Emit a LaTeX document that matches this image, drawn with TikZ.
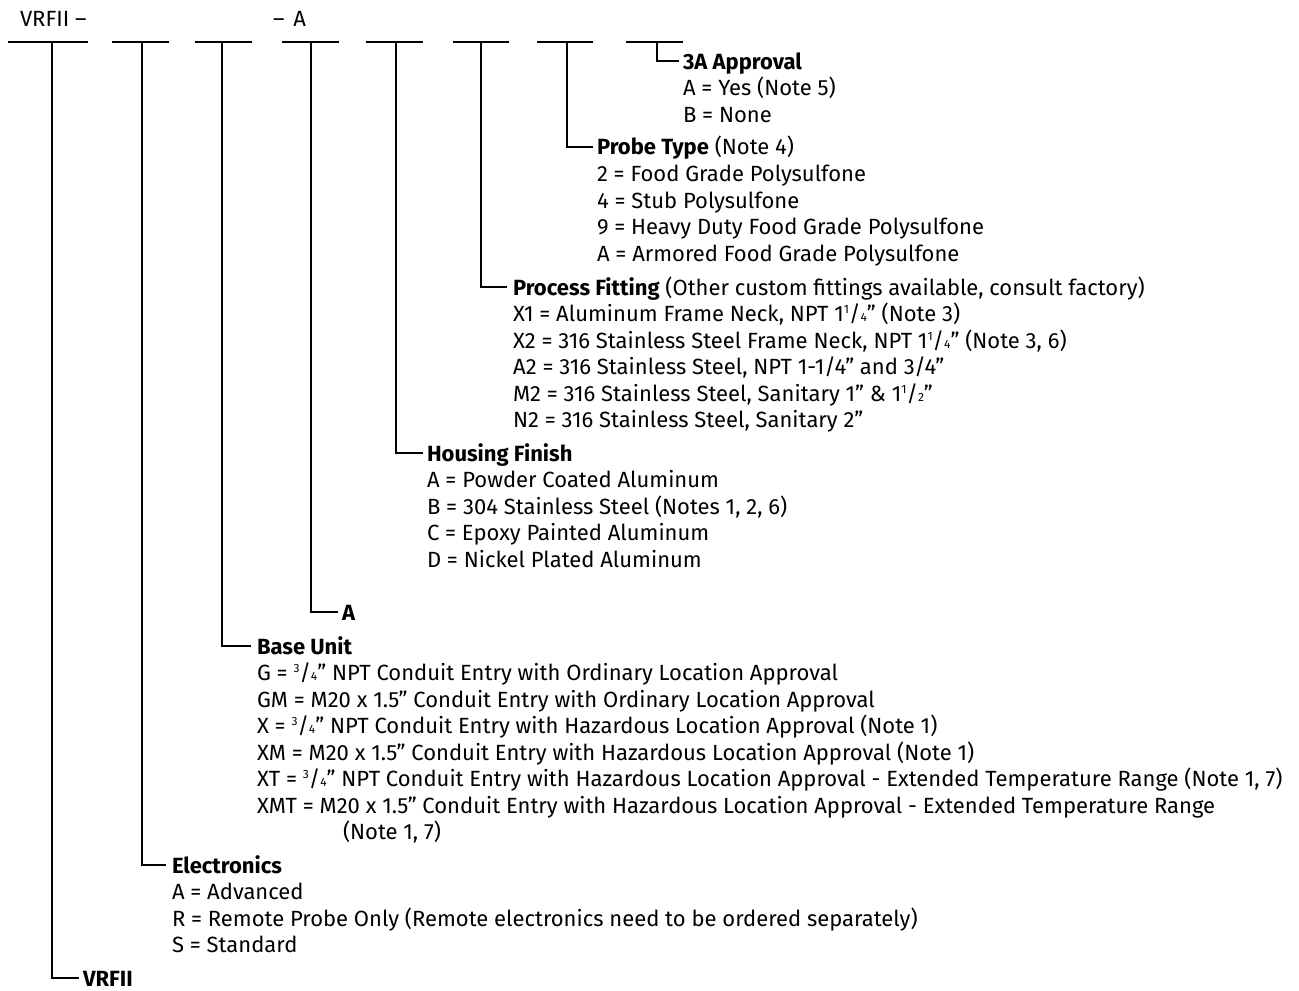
\documentclass[tikz,border=0pt]{standalone}
\usepackage{fontspec}
\setmainfont{Fira Sans}
\usetikzlibrary{positioning}

\newcommand{\frc}[2]{\raisebox{0.36em}{\fontsize{6}{7}\selectfont#1}/{\fontsize{6}{7}\selectfont#2}}

\tikzset{
	txt/.style={inner sep=0pt, outer sep=0pt, text height=9.5pt, text depth=1.5pt, font=\fontsize{11}{13}\selectfont},
	ttl/.style={txt, anchor=west},
	opt/.style={txt},
	lead/.style={line width=0.6pt},
}

\begin{document}
\begin{tikzpicture}[x=0.5pt, y=-0.5pt, node distance=2.25pt and 0pt]
	\useasboundingbox (0,0) rectangle (1299,990);

	\node[txt, anchor=west] (hdr) at (20,19) {VRFII –};
	\node[txt, anchor=west] (hdrA) at (273,19) {–\hspace{4.5pt}A};

	% blanks of the order code
	\draw[lead] (8,42) -- (88,42)  (112,42) -- (169,42)  (195,42) -- (252,42)  (282,42) -- (339,42)
		(366,42) -- (423,42)  (453,42) -- (509,42)  (537,42) -- (593,42)  (626,42) -- (683,42);

	\coordinate (s1) at (52,42);
	\coordinate (s2) at (142,42);
	\coordinate (s3) at (222,42);
	\coordinate (s4) at (311,42);
	\coordinate (s5) at (396,42);
	\coordinate (s6) at (481,42);
	\coordinate (s7) at (567,42);
	\coordinate (s8) at (657,42);

	\node[ttl] (appr) at (683,61) {\textbf{3A Approval}};
	\node[opt, below right=of appr.south west] (appr1) {A = Yes (Note 5)};
	\node[opt, below right=of appr1.south west] (appr2) {B = None};

	\node[ttl] (probe) at (597,147) {\textbf{Probe Type} (Note 4)};
	\node[opt, below right=of probe.south west] (probe1) {2 = Food Grade Polysulfone};
	\node[opt, below right=of probe1.south west] (probe2) {4 = Stub Polysulfone};
	\node[opt, below right=of probe2.south west] (probe3) {9 = Heavy Duty Food Grade Polysulfone};
	\node[opt, below right=of probe3.south west] (probe4) {A = Armored Food Grade Polysulfone};

	\node[ttl] (fit) at (513,287) {\textbf{Process Fitting} (Other custom fittings available, consult factory)};
	\node[opt, below right=of fit.south west] (fit1) {X1 = Aluminum Frame Neck, NPT 1\frc{1}{4}” (Note 3)};
	\node[opt, below right=of fit1.south west] (fit2) {X2 = 316 Stainless Steel Frame Neck, NPT 1\frc{1}{4}” (Note 3, 6)};
	\node[opt, below right=of fit2.south west] (fit3) {A2 = 316 Stainless Steel, NPT 1-1/4” and 3/4”};
	\node[opt, below right=of fit3.south west] (fit4) {M2 = 316 Stainless Steel, Sanitary 1” \& 1\frc{1}{2}”};
	\node[opt, below right=of fit4.south west] (fit5) {N2 = 316 Stainless Steel, Sanitary 2”};

	\node[ttl] (hous) at (427,453) {\textbf{Housing Finish}};
	\node[opt, below right=of hous.south west] (hous1) {A = Powder Coated Aluminum};
	\node[opt, below right=of hous1.south west] (hous2) {B = 304 Stainless Steel (Notes 1, 2, 6)};
	\node[opt, below right=of hous2.south west] (hous3) {C = Epoxy Painted Aluminum};
	\node[opt, below right=of hous3.south west] (hous4) {D = Nickel Plated Aluminum};

	\node[ttl] (fixA) at (342,612) {\textbf{A}};

	\node[ttl] (base) at (257,646) {\textbf{Base Unit}};
	\node[opt, below right=of base.south west] (base1) {G = \frc{3}{4}” NPT Conduit Entry with Ordinary Location Approval};
	\node[opt, below right=of base1.south west] (base2) {GM = M20 x 1.5” Conduit Entry with Ordinary Location Approval};
	\node[opt, below right=of base2.south west] (base3) {X = \frc{3}{4}” NPT Conduit Entry with Hazardous Location Approval (Note 1)};
	\node[opt, below right=of base3.south west] (base4) {XM = M20 x 1.5” Conduit Entry with Hazardous Location Approval (Note 1)};
	\node[opt, below right=of base4.south west] (base5) {XT = \frc{3}{4}” NPT Conduit Entry with Hazardous Location Approval - Extended Temperature Range (Note 1, 7)};
	\node[opt, below right=of base5.south west] (base6) {XMT = M20 x 1.5” Conduit Entry with Hazardous Location Approval - Extended Temperature Range};
	\node[opt, below right=2.25pt and 43pt of base6.south west] (base7) {(Note 1, 7)};

	\node[ttl] (elec) at (172,865) {\textbf{Electronics}};
	\node[opt, below right=of elec.south west] (elec1) {A = Advanced};
	\node[opt, below right=of elec1.south west] (elec2) {R = Remote Probe Only (Remote electronics need to be ordered separately)};
	\node[opt, below right=of elec2.south west] (elec3) {S = Standard};

	\node[ttl] (vrf) at (83,978) {\textbf{VRFII}};

	\draw[lead] (s1) |- ([xshift=-2pt]vrf.west);
	\draw[lead] (s2) |- ([xshift=-3pt]elec.west);
	\draw[lead] (s3) |- ([xshift=-3pt]base.west);
	\draw[lead] (s4) |- ([xshift=-2pt]fixA.west);
	\draw[lead] (s5) |- ([xshift=-2pt]hous.west);
	\draw[lead] (s6) |- ([xshift=-3pt]fit.west);
	\draw[lead] (s7) |- ([xshift=-2pt]probe.west);
	\draw[lead] (s8) |- ([xshift=-2pt]appr.west);
\end{tikzpicture}
\end{document}
